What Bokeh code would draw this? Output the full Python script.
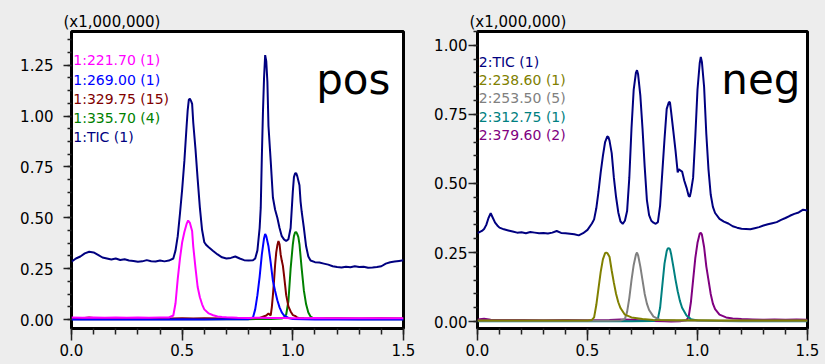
from bokeh.plotting import figure
from bokeh.layouts import gridplot
from bokeh.models import Label, Range1d, SingleIntervalTicker, NumeralTickFormatter
from bokeh.embed import file_html
from bokeh.resources import INLINE

# ---------------- data (intensity x1,000,000 vs time) ----------------
# positive mode
pos_tic_t = [0.00, 0.02, 0.04, 0.06, 0.08, 0.10, 0.12, 0.14, 0.16, 0.18, 0.20, 0.22, 0.24, 0.26, 0.28, 0.30,
             0.32, 0.34, 0.36, 0.38, 0.40, 0.42, 0.44, 0.46, 0.47, 0.48, 0.49, 0.50, 0.51, 0.52, 0.525, 0.53,
             0.535, 0.54, 0.545, 0.55, 0.56, 0.57, 0.58, 0.59, 0.60, 0.61, 0.62, 0.64, 0.66, 0.68, 0.70, 0.72,
             0.74, 0.76, 0.78, 0.80, 0.82, 0.83, 0.84, 0.85, 0.855, 0.86, 0.865, 0.87, 0.875, 0.88, 0.885, 0.89,
             0.90, 0.91, 0.92, 0.93, 0.94, 0.95, 0.96, 0.97, 0.98, 0.99, 1.00, 1.005, 1.01, 1.015, 1.02, 1.03,
             1.035, 1.04, 1.05, 1.06, 1.07, 1.08, 1.10, 1.12, 1.14, 1.16, 1.18, 1.20, 1.22, 1.24, 1.26, 1.28,
             1.30, 1.32, 1.34, 1.36, 1.38, 1.40, 1.42, 1.44, 1.46, 1.48, 1.50]
pos_tic_v = [0.285, 0.300, 0.310, 0.325, 0.333, 0.330, 0.318, 0.305, 0.300, 0.295, 0.300, 0.293, 0.296, 0.290, 0.288, 0.284,
             0.286, 0.292, 0.287, 0.285, 0.290, 0.286, 0.290, 0.300, 0.340, 0.410, 0.520, 0.640, 0.780, 0.950, 1.030, 1.080,
             1.085, 1.075, 1.060, 0.970, 0.840, 0.690, 0.550, 0.440, 0.380, 0.365, 0.355, 0.337, 0.320, 0.306, 0.300, 0.303,
             0.310, 0.300, 0.292, 0.290, 0.291, 0.300, 0.340, 0.450, 0.550, 0.800, 1.020, 1.190, 1.300, 1.270, 1.170, 0.950,
             0.780, 0.600, 0.540, 0.500, 0.450, 0.410, 0.394, 0.386, 0.395, 0.450, 0.630, 0.700, 0.718, 0.720, 0.705, 0.660,
             0.580, 0.530, 0.450, 0.360, 0.310, 0.290, 0.282, 0.280, 0.275, 0.270, 0.262, 0.258, 0.256, 0.260, 0.257, 0.262,
             0.258, 0.260, 0.255, 0.256, 0.258, 0.262, 0.275, 0.282, 0.285, 0.288, 0.291]

pos_221_t = [0.00, 0.05, 0.10, 0.15, 0.20, 0.25, 0.30, 0.35, 0.40, 0.44, 0.46, 0.47, 0.48, 0.49, 0.50, 0.51,
             0.52, 0.527, 0.535, 0.545, 0.55, 0.56, 0.57, 0.58, 0.59, 0.60, 0.62, 0.64, 0.66, 0.68, 0.70, 0.75,
             0.80, 0.85, 0.90, 0.95, 1.00, 1.05, 1.10, 1.15, 1.20, 1.25, 1.30, 1.35, 1.40, 1.45, 1.50]
pos_221_v = [0.010, 0.009, 0.010, 0.009, 0.010, 0.009, 0.010, 0.009, 0.010, 0.010, 0.020, 0.080, 0.200, 0.300, 0.380, 0.430,
             0.470, 0.487, 0.475, 0.435, 0.360, 0.255, 0.160, 0.110, 0.075, 0.050, 0.030, 0.021, 0.015, 0.012, 0.011, 0.009,
             0.008, 0.009, 0.008, 0.008, 0.007, 0.007, 0.008, 0.007, 0.007, 0.006, 0.007, 0.006, 0.006, 0.006, 0.006]

pos_269_t = [0.00, 0.10, 0.20, 0.30, 0.40, 0.50, 0.60, 0.70, 0.80, 0.82, 0.83, 0.84, 0.85, 0.86, 0.87, 0.875,
             0.88, 0.89, 0.90, 0.91, 0.92, 0.93, 0.94, 0.95, 0.96, 0.98, 1.00, 1.05, 1.10, 1.20, 1.30, 1.40, 1.50]
pos_269_v = [0.000, 0.001, 0.000, 0.001, 0.000, 0.001, 0.000, 0.001, 0.002, 0.010, 0.050, 0.120, 0.210, 0.320, 0.400, 0.421,
             0.410, 0.360, 0.280, 0.190, 0.140, 0.095, 0.060, 0.035, 0.020, 0.008, 0.003, 0.001, 0.000, 0.001, 0.000, 0.001, 0.000]

pos_329_t = [0.00, 0.05, 0.08, 0.10, 0.12, 0.20, 0.30, 0.40, 0.45, 0.50, 0.55, 0.60, 0.70, 0.80, 0.85, 0.88,
             0.89, 0.90, 0.905, 0.91, 0.915, 0.92, 0.925, 0.93, 0.935, 0.94, 0.945, 0.95, 0.955, 0.96, 0.965, 0.97,
             0.98, 0.99, 1.00, 1.01, 1.02, 1.03, 1.05, 1.10, 1.20, 1.30, 1.40, 1.50]
pos_329_v = [0.004, 0.006, 0.010, 0.008, 0.005, 0.006, 0.005, 0.007, 0.005, 0.006, 0.005, 0.006, 0.005, 0.006, 0.008, 0.020,
             0.030, 0.020, 0.060, 0.120, 0.190, 0.270, 0.330, 0.365, 0.386, 0.370, 0.320, 0.290, 0.265, 0.220, 0.170, 0.120,
             0.065, 0.040, 0.022, 0.018, 0.010, 0.007, 0.006, 0.005, 0.006, 0.005, 0.006, 0.005]

pos_335_t = [0.00, 0.20, 0.40, 0.60, 0.80, 0.90, 0.95, 0.96, 0.97, 0.98, 0.99, 1.00, 1.005, 1.01, 1.015, 1.02,
             1.025, 1.03, 1.035, 1.04, 1.05, 1.06, 1.07, 1.08, 1.09, 1.10, 1.20, 1.30, 1.40, 1.50]
pos_335_v = [0.002, 0.002, 0.002, 0.002, 0.002, 0.003, 0.005, 0.010, 0.025, 0.090, 0.250, 0.370, 0.410, 0.428, 0.430, 0.420,
             0.405, 0.370, 0.310, 0.250, 0.142, 0.075, 0.035, 0.015, 0.008, 0.005, 0.003, 0.002, 0.002, 0.002]

# negative mode
neg_tic_t = [0.00, 0.02, 0.03, 0.04, 0.05, 0.06, 0.07, 0.08, 0.09, 0.10, 0.12, 0.14, 0.16, 0.18, 0.20, 0.22,
             0.24, 0.26, 0.28, 0.30, 0.32, 0.34, 0.36, 0.38, 0.40, 0.42, 0.44, 0.46, 0.48, 0.50, 0.52, 0.53,
             0.54, 0.55, 0.56, 0.57, 0.58, 0.59, 0.595, 0.60, 0.61, 0.62, 0.63, 0.64, 0.65, 0.66, 0.67, 0.68,
             0.69, 0.70, 0.71, 0.72, 0.725, 0.73, 0.74, 0.75, 0.76, 0.77, 0.78, 0.79, 0.80, 0.81, 0.82, 0.83,
             0.84, 0.85, 0.86, 0.87, 0.875, 0.88, 0.89, 0.90, 0.91, 0.915, 0.92, 0.93, 0.94, 0.95, 0.96, 0.965,
             0.97, 0.98, 0.99, 1.00, 1.01, 1.015, 1.02, 1.03, 1.04, 1.05, 1.06, 1.07, 1.08, 1.10, 1.12, 1.14,
             1.16, 1.18, 1.20, 1.22, 1.24, 1.26, 1.28, 1.30, 1.32, 1.34, 1.36, 1.38, 1.40, 1.42, 1.44, 1.46,
             1.48, 1.50]
neg_tic_v = [0.320, 0.328, 0.335, 0.350, 0.375, 0.392, 0.375, 0.358, 0.348, 0.340, 0.334, 0.330, 0.326, 0.322, 0.323, 0.320,
             0.324, 0.322, 0.320, 0.321, 0.319, 0.322, 0.328, 0.321, 0.320, 0.318, 0.316, 0.312, 0.320, 0.332, 0.355, 0.370,
             0.410, 0.470, 0.540, 0.600, 0.650, 0.670, 0.668, 0.655, 0.610, 0.520, 0.450, 0.395, 0.362, 0.354, 0.365, 0.400,
             0.520, 0.700, 0.840, 0.900, 0.910, 0.895, 0.820, 0.700, 0.560, 0.440, 0.385, 0.365, 0.358, 0.354, 0.360, 0.420,
             0.540, 0.660, 0.770, 0.795, 0.793, 0.760, 0.690, 0.620, 0.540, 0.552, 0.548, 0.543, 0.510, 0.485, 0.455, 0.452,
             0.470, 0.520, 0.670, 0.840, 0.935, 0.958, 0.940, 0.850, 0.680, 0.550, 0.460, 0.415, 0.393, 0.372, 0.362, 0.355,
             0.345, 0.340, 0.336, 0.335, 0.334, 0.338, 0.342, 0.348, 0.352, 0.356, 0.360, 0.368, 0.375, 0.383, 0.390, 0.395,
             0.405, 0.402]

neg_238_t = [0.00, 0.10, 0.20, 0.30, 0.40, 0.50, 0.52, 0.53, 0.54, 0.55, 0.56, 0.57, 0.58, 0.585, 0.59, 0.60,
             0.61, 0.62, 0.63, 0.64, 0.65, 0.67, 0.70, 0.75, 0.80, 0.90, 1.00, 1.10, 1.20, 1.30, 1.40, 1.50]
neg_238_v = [0.004, 0.004, 0.004, 0.004, 0.004, 0.004, 0.006, 0.015, 0.060, 0.120, 0.180, 0.225, 0.248, 0.250, 0.248, 0.235,
             0.185, 0.140, 0.100, 0.070, 0.049, 0.025, 0.015, 0.009, 0.006, 0.005, 0.005, 0.004, 0.004, 0.004, 0.004, 0.004]

neg_253_t = [0.00, 0.20, 0.40, 0.60, 0.65, 0.67, 0.68, 0.69, 0.70, 0.71, 0.72, 0.725, 0.73, 0.74, 0.75, 0.76,
             0.77, 0.78, 0.80, 0.83, 0.90, 1.00, 1.20, 1.50]
neg_253_v = [0.003, 0.003, 0.003, 0.003, 0.004, 0.010, 0.035, 0.085, 0.150, 0.205, 0.242, 0.250, 0.240, 0.200, 0.150, 0.100,
             0.065, 0.042, 0.018, 0.006, 0.004, 0.003, 0.003, 0.003]

neg_312_t = [0.00, 0.20, 0.40, 0.60, 0.70, 0.80, 0.82, 0.83, 0.84, 0.85, 0.86, 0.865, 0.87, 0.875, 0.88, 0.89,
             0.90, 0.91, 0.92, 0.93, 0.95, 0.97, 1.00, 1.10, 1.20, 1.30, 1.40, 1.50]
neg_312_v = [0.001, 0.001, 0.001, 0.001, 0.001, 0.002, 0.010, 0.050, 0.130, 0.210, 0.255, 0.265, 0.266, 0.262, 0.245, 0.200,
             0.152, 0.110, 0.075, 0.050, 0.022, 0.009, 0.004, 0.002, 0.001, 0.001, 0.001, 0.001]

neg_379_t = [0.00, 0.03, 0.06, 0.10, 0.20, 0.30, 0.40, 0.50, 0.60, 0.65, 0.70, 0.75, 0.80, 0.85, 0.88, 0.92,
             0.95, 0.96, 0.97, 0.98, 0.99, 1.00, 1.01, 1.015, 1.02, 1.03, 1.04, 1.05, 1.06, 1.07, 1.08, 1.10,
             1.13, 1.16, 1.20, 1.25, 1.30, 1.35, 1.40, 1.45, 1.50]
neg_379_v = [0.008, 0.010, 0.007, 0.006, 0.006, 0.005, 0.006, 0.005, 0.006, 0.008, 0.007, 0.004, 0.002, 0.001, 0.000, 0.001,
             0.005, 0.018, 0.070, 0.150, 0.230, 0.285, 0.318, 0.322, 0.315, 0.270, 0.200, 0.150, 0.100, 0.065, 0.045, 0.025,
             0.015, 0.011, 0.009, 0.008, 0.007, 0.008, 0.007, 0.008, 0.007]

pos_labels = ["1:221.70 (1)", "1:269.00 (1)", "1:329.75 (15)", "1:335.70 (4)", "1:TIC (1)"]
pos_colors = ["#ff00ff", "#0000ff", "#800000", "#008000", "#000080"]
neg_labels = ["2:TIC (1)", "2:238.60 (1)", "2:253.50 (5)", "2:312.75 (1)", "2:379.60 (2)"]
neg_colors = ["#000080", "#808000", "#808080", "#008080", "#800080"]
scale_text = "(x1,000,000)"

FONT = "DejaVu Sans"
BG = "#ededed"


def style(p, y_minor):
    p.background_fill_color = "white"
    p.border_fill_color = BG
    p.outline_line_color = "black"
    p.outline_line_width = 3
    p.grid.visible = False
    p.styles = {"background-color": BG}
    p.title.text_font = FONT
    p.title.text_font_size = "15px"
    p.title.text_font_style = "normal"
    p.title.align = "left"
    p.title.offset = -8
    p.title.standoff = 1
    p.title.text_color = "black"
    for ax in (p.xaxis[0], p.yaxis[0]):
        ax.axis_line_color = None
        ax.major_tick_line_color = "#222222"
        ax.minor_tick_line_color = "#222222"
        ax.major_tick_line_width = 1.5
        ax.minor_tick_line_width = 1.5
        ax.major_tick_in = 0
        ax.minor_tick_in = 0
        ax.major_label_text_font = FONT
        ax.major_label_text_font_size = "15px"
        ax.major_label_text_color = "black"
    p.xaxis[0].ticker = SingleIntervalTicker(interval=0.5, num_minor_ticks=5)
    p.xaxis[0].formatter = NumeralTickFormatter(format="0.0")
    p.xaxis[0].major_tick_out = 12
    p.xaxis[0].minor_tick_out = 6
    p.xaxis[0].major_label_standoff = 3
    p.yaxis[0].ticker = SingleIntervalTicker(interval=0.25, num_minor_ticks=y_minor)
    p.yaxis[0].formatter = NumeralTickFormatter(format="0.00")
    p.yaxis[0].major_tick_out = 8
    p.yaxis[0].minor_tick_out = 4


# ---------------- positive panel ----------------
p1 = figure(width=420, height=364, x_range=Range1d(0, 1.5), y_range=Range1d(-0.044, 1.416),
            output_backend="svg", toolbar_location=None, title=scale_text,
            min_border_left=71, min_border_right=17, min_border_top=29, min_border_bottom=36)
style(p1, 4)
p1.yaxis[0].major_label_standoff = 10
p1.line(pos_tic_t, pos_tic_v, line_color=pos_colors[4], line_width=2)
p1.line(pos_335_t, pos_335_v, line_color=pos_colors[3], line_width=2)
p1.line(pos_329_t, pos_329_v, line_color=pos_colors[2], line_width=2)
p1.line(pos_269_t, pos_269_v, line_color=pos_colors[1], line_width=2)
p1.line(pos_221_t, pos_221_v, line_color=pos_colors[0], line_width=2)
for i, (lab, col) in enumerate(zip(pos_labels, pos_colors)):
    p1.add_layout(Label(x=0.008, y=1.274 - i * 0.094, text=lab, text_color=col, text_font=FONT,
                        text_font_size="14px", text_baseline="middle", text_align="left"))
p1.add_layout(Label(x=1.441, y=1.18, text="pos", text_font=FONT, text_font_size="42px",
                    text_align="right", text_baseline="alphabetic", text_color="black"))

# ---------------- negative panel ----------------
p2 = figure(width=405, height=364, x_range=Range1d(0, 1.5), y_range=Range1d(-0.025, 1.05),
            output_backend="svg", toolbar_location=None, title=scale_text,
            min_border_left=57, min_border_right=18, min_border_top=31, min_border_bottom=35)
style(p2, 5)
p2.yaxis[0].major_label_standoff = 1
p2.yaxis[0].major_tick_out = 9
p2.line(neg_tic_t, neg_tic_v, line_color=neg_colors[0], line_width=2)
p2.line(neg_379_t, neg_379_v, line_color=neg_colors[4], line_width=2)
p2.line(neg_312_t, neg_312_v, line_color=neg_colors[3], line_width=2)
p2.line(neg_253_t, neg_253_v, line_color=neg_colors[2], line_width=2)
p2.line(neg_238_t, neg_238_v, line_color=neg_colors[1], line_width=2)
for i, (lab, col) in enumerate(zip(neg_labels, neg_colors)):
    p2.add_layout(Label(x=0.006, y=0.94 - i * 0.066, text=lab, text_color=col, text_font=FONT,
                        text_font_size="14px", text_baseline="middle", text_align="left"))
p2.add_layout(Label(x=1.468, y=0.877, text="neg", text_font=FONT, text_font_size="42px",
                    text_align="right", text_baseline="alphabetic", text_color="black"))

layout = gridplot([[p1, p2]], toolbar_location=None)
layout.styles = {"background-color": BG}
open("out.html", "w").write(file_html(layout, INLINE))
